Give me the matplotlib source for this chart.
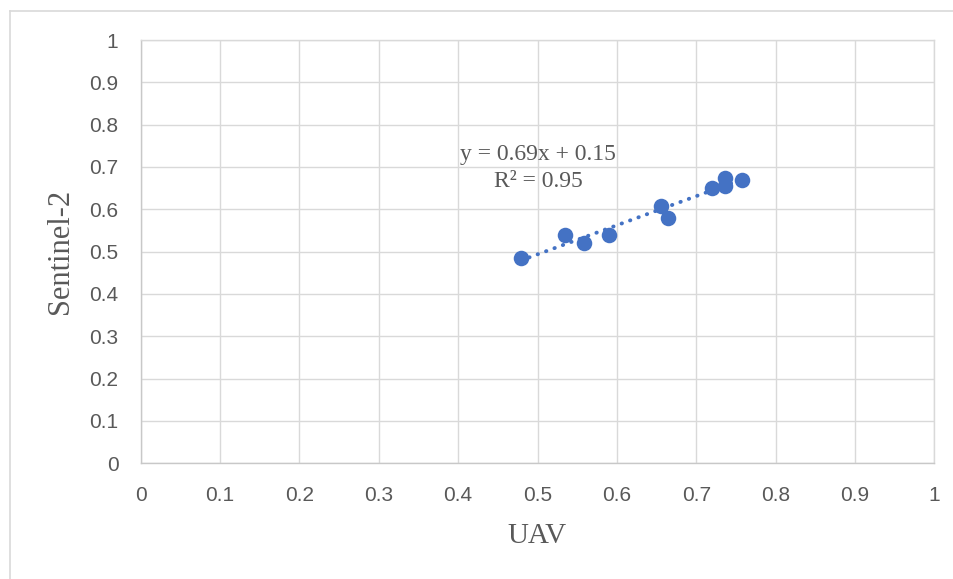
import numpy as np
import matplotlib.pyplot as plt
from matplotlib.lines import Line2D

# data
uav = [0.479, 0.535, 0.559, 0.590, 0.656, 0.665, 0.720, 0.736, 0.736, 0.758]
sentinel = [0.485, 0.540, 0.520, 0.540, 0.608, 0.580, 0.651, 0.673, 0.655, 0.670]
ticks = [0, 0.1, 0.2, 0.3, 0.4, 0.5, 0.6, 0.7, 0.8, 0.9, 1]
tick_labels = ['0', '0.1', '0.2', '0.3', '0.4', '0.5', '0.6', '0.7', '0.8', '0.9', '1']

blue = '#4472C4'
grid = '#d9d9d9'
txt = '#595959'

fig = plt.figure(figsize=(9.54, 5.79), dpi=100)
ax = fig.add_axes([140.7 / 954, 1 - 463.3 / 579, 793.6 / 954, 423.3 / 579])

# linear trendline (Excel style, dotted)
slope, icpt = np.polyfit(uav, sentinel, 1)
xs = np.array([min(uav), max(uav)])
ax.plot(xs, slope * xs + icpt, color=blue, lw=2.8, linestyle=(0, (0.1, 2.2)),
        dash_capstyle='round', zorder=3)

ax.scatter(uav, sentinel, s=125, color=blue, zorder=4, linewidths=0)

ax.text(0.501, 0.729, 'y = 0.69x + 0.15', ha='center', va='center',
        fontsize=17, family='Liberation Serif', color=txt)
ax.text(0.501, 0.665, 'R² = 0.95', ha='center', va='center',
        fontsize=17, family='Liberation Serif', color=txt)

ax.set_xlim(0, 1)
ax.set_ylim(0, 1)
ax.set_xticks(ticks)
ax.set_yticks(ticks)
ax.set_xticklabels(tick_labels, family='Liberation Sans', fontsize=15, color=txt)
ax.set_yticklabels(tick_labels, family='Liberation Sans', fontsize=15, color=txt)
ax.tick_params(length=0)
ax.tick_params(axis='x', pad=16)
ax.tick_params(axis='y', pad=16)
ax.grid(True, color=grid, lw=1.0)
ax.set_axisbelow(True)
for s in ax.spines.values():
    s.set_color(grid)
    s.set_linewidth(1.0)
ax.spines['left'].set_color('#c8c8c8')
ax.spines['bottom'].set_color('#c8c8c8')

ax.set_xlabel('UAV', family='Liberation Serif', fontsize=21, color=txt, labelpad=13)
ax.set_ylabel('Sentinel-2', family='Liberation Serif', fontsize=22, color=txt, labelpad=10)

# chart area border (only left/top visible)
fig.add_artist(Line2D([10.5 / 954, 10.5 / 954], [0, 1 - 10.5 / 579], color=grid, lw=1.2,
                      transform=fig.transFigure))
fig.add_artist(Line2D([10.5 / 954, 1], [1 - 10.5 / 579, 1 - 10.5 / 579], color=grid, lw=1.2,
                      transform=fig.transFigure))

fig.savefig('out.png', dpi=100)
